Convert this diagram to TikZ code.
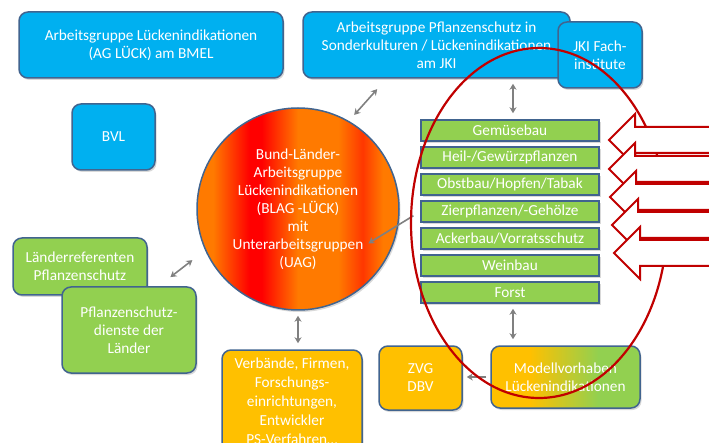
\documentclass[tikz,border=0pt]{standalone}
\usepackage{fontspec}
\setmainfont{Carlito}
\usepackage{tikz}
\usetikzlibrary{positioning,arrows.meta,shadows,calc}

\definecolor{agblue}{HTML}{00B0F0}
\definecolor{aggreen}{HTML}{92D050}
\definecolor{agyellow}{HTML}{FFC000}
\definecolor{agframe}{HTML}{41648F}
\definecolor{agred}{HTML}{C00000}
\definecolor{aggray}{HTML}{808080}
\definecolor{blagorange}{HTML}{FF7A00}
\pgfdeclarehorizontalshading{blagfill}{100bp}{color(0bp)=(blagorange); color(29bp)=(blagorange); color(38bp)=(red); color(41bp)=(red); color(50bp)=(blagorange); color(60bp)=(blagorange); color(66bp)=(red!55!blagorange); color(71bp)=(blagorange); color(100bp)=(blagorange)}
\pgfdeclarehorizontalshading{modfill}{100bp}{color(0bp)=(agyellow); color(38bp)=(agyellow); color(61bp)=(aggreen); color(100bp)=(aggreen)}

\begin{document}
\begin{tikzpicture}[x=1pt,y=-1pt,
    every node/.style={font=\fontsize{15.3}{18}\selectfont, text=white, align=center, inner sep=0pt},
    shade/.style={drop shadow={opacity=0.3, shadow xshift=1.5pt, shadow yshift=-2pt}},
    box/.style={draw=agframe, line width=1.5pt, rounded corners=9pt, shade},
    bluebox/.style={box, fill=agblue},
    greenbox/.style={box, fill=aggreen},
    yellowbox/.style={box, fill=agyellow},
    stripe/.style={draw=agframe, line width=1.5pt, fill=aggreen, shade, minimum width=178pt, minimum height=21pt},
    link/.style={draw=aggray, line width=1.6pt, {Stealth[length=6pt,width=7pt]}-{Stealth[length=6pt,width=7pt]}},
    onelink/.style={draw=aggray, line width=1.6pt, -{Stealth[length=6pt,width=7pt]}},
    bigarrow/.style={draw=agred, line width=2pt, fill=white, line join=miter}]
	\clip (0,0) rectangle (709,443);

	% obere Ebene
	\node[bluebox, minimum width=264pt, minimum height=66pt] (agl) at (151,45) {Arbeitsgruppe Lückenindikationen\\(AG LÜCK) am BMEL};
	\node[bluebox, minimum width=267pt, minimum height=66pt] (agp) at (436.5,45) {Arbeitsgruppe Pflanzenschutz in\\Sonderkulturen / Lückenindikationen\\am JKI};
	\node[bluebox, minimum width=84pt, minimum height=66pt] (jki) at (600,55) {JKI Fach-\\institute};
	\node[bluebox, minimum width=83pt, minimum height=66pt] (bvl) at (113.5,137) {BVL};

	% BLAG
	\node[circle, draw=agframe, line width=1.5pt, shading=blagfill, shade, minimum size=202pt] (blag) at (298,209)
		{Bund-Länder-\\Arbeitsgruppe\\Lückenindikationen\\(BLAG -LÜCK)\\mit\\Unterarbeitsgruppen\\(UAG)};

	% Kulturen
	\foreach \name/\txt [count=\i from 0] in {gem/Gemüsebau, heil/{Heil-/Gewürzpflanzen}, obst/{Obstbau/Hopfen/Tabak}, zier/{Zierpflanzen/-Gehölze}, acker/{Ackerbau/Vorratsschutz}, wein/Weinbau, forst/Forst}
		\node[stripe] (\name) at (510,130.5+27*\i) {\txt};

	% Länder
	\node[greenbox, minimum width=134pt, minimum height=57pt] (lrp) at (80,266.5) {Länderreferenten\\Pflanzenschutz};
	\node[greenbox, minimum width=134pt, minimum height=86pt] (psd) at (129,330) {Pflanzenschutz-\\dienste der\\Länder};

	% untere Ebene
	\node[yellowbox, minimum width=140pt, minimum height=102pt, font=\fontsize{15.3}{19}\selectfont] (verb) at (292,401) {Verbände, Firmen,\\Forschungs-\\einrichtungen,\\Entwickler\\PS-Verfahren\dots};
	\node[yellowbox, minimum width=83pt, minimum height=64pt] (zvg) at (420.5,378) {ZVG\\DBV};
	\node[box, shading=modfill, minimum width=149pt, minimum height=62pt] (mod) at (565.5,377) {Modellvorhaben\\Lückenindikationen};

	% Verbindungen
	\draw[link, shorten <=8pt, shorten >=14pt] (blag.60) -- ([xshift=-50pt]agp.south);
	\draw[link, shorten <=5pt, shorten >=6pt] ([xshift=3pt]gem.north |- agp.south) -- ([xshift=3pt]gem.north);
	\draw[link, shorten <=16pt, shorten >=15pt] (blag.204) -- ([xshift=29.5pt]psd.north);
	\draw[link, shorten <=5pt, shorten >=6pt] (blag.south) -- (blag.south |- verb.north);
	\draw[link, shorten <=5pt, shorten >=6pt] ([xshift=3pt]forst.south) -- ([xshift=3pt]forst.south |- mod.north);
	\draw[onelink, shorten <=4pt, shorten >=4pt] (mod.west) -- (mod.west -| zvg.east);
	\draw[onelink, shorten <=8pt] (zier.west) -- ($(blag.center)!0.77!(blag.334)$);

	% Markierung
	\draw[agred, line width=2.2pt] (539,223) ellipse [x radius=128, y radius=175];
	\foreach \tx/\ty in {609/140, 609/169, 610/197, 612/225, 614/253}
		\draw[bigarrow] (\tx,\ty) -- ++(26,-26) -- ++(0,13) -- (730,\ty-13) -- (730,\ty+13) -- (\tx+26,\ty+13) -- ++(0,13) -- cycle;
\end{tikzpicture}
\end{document}
